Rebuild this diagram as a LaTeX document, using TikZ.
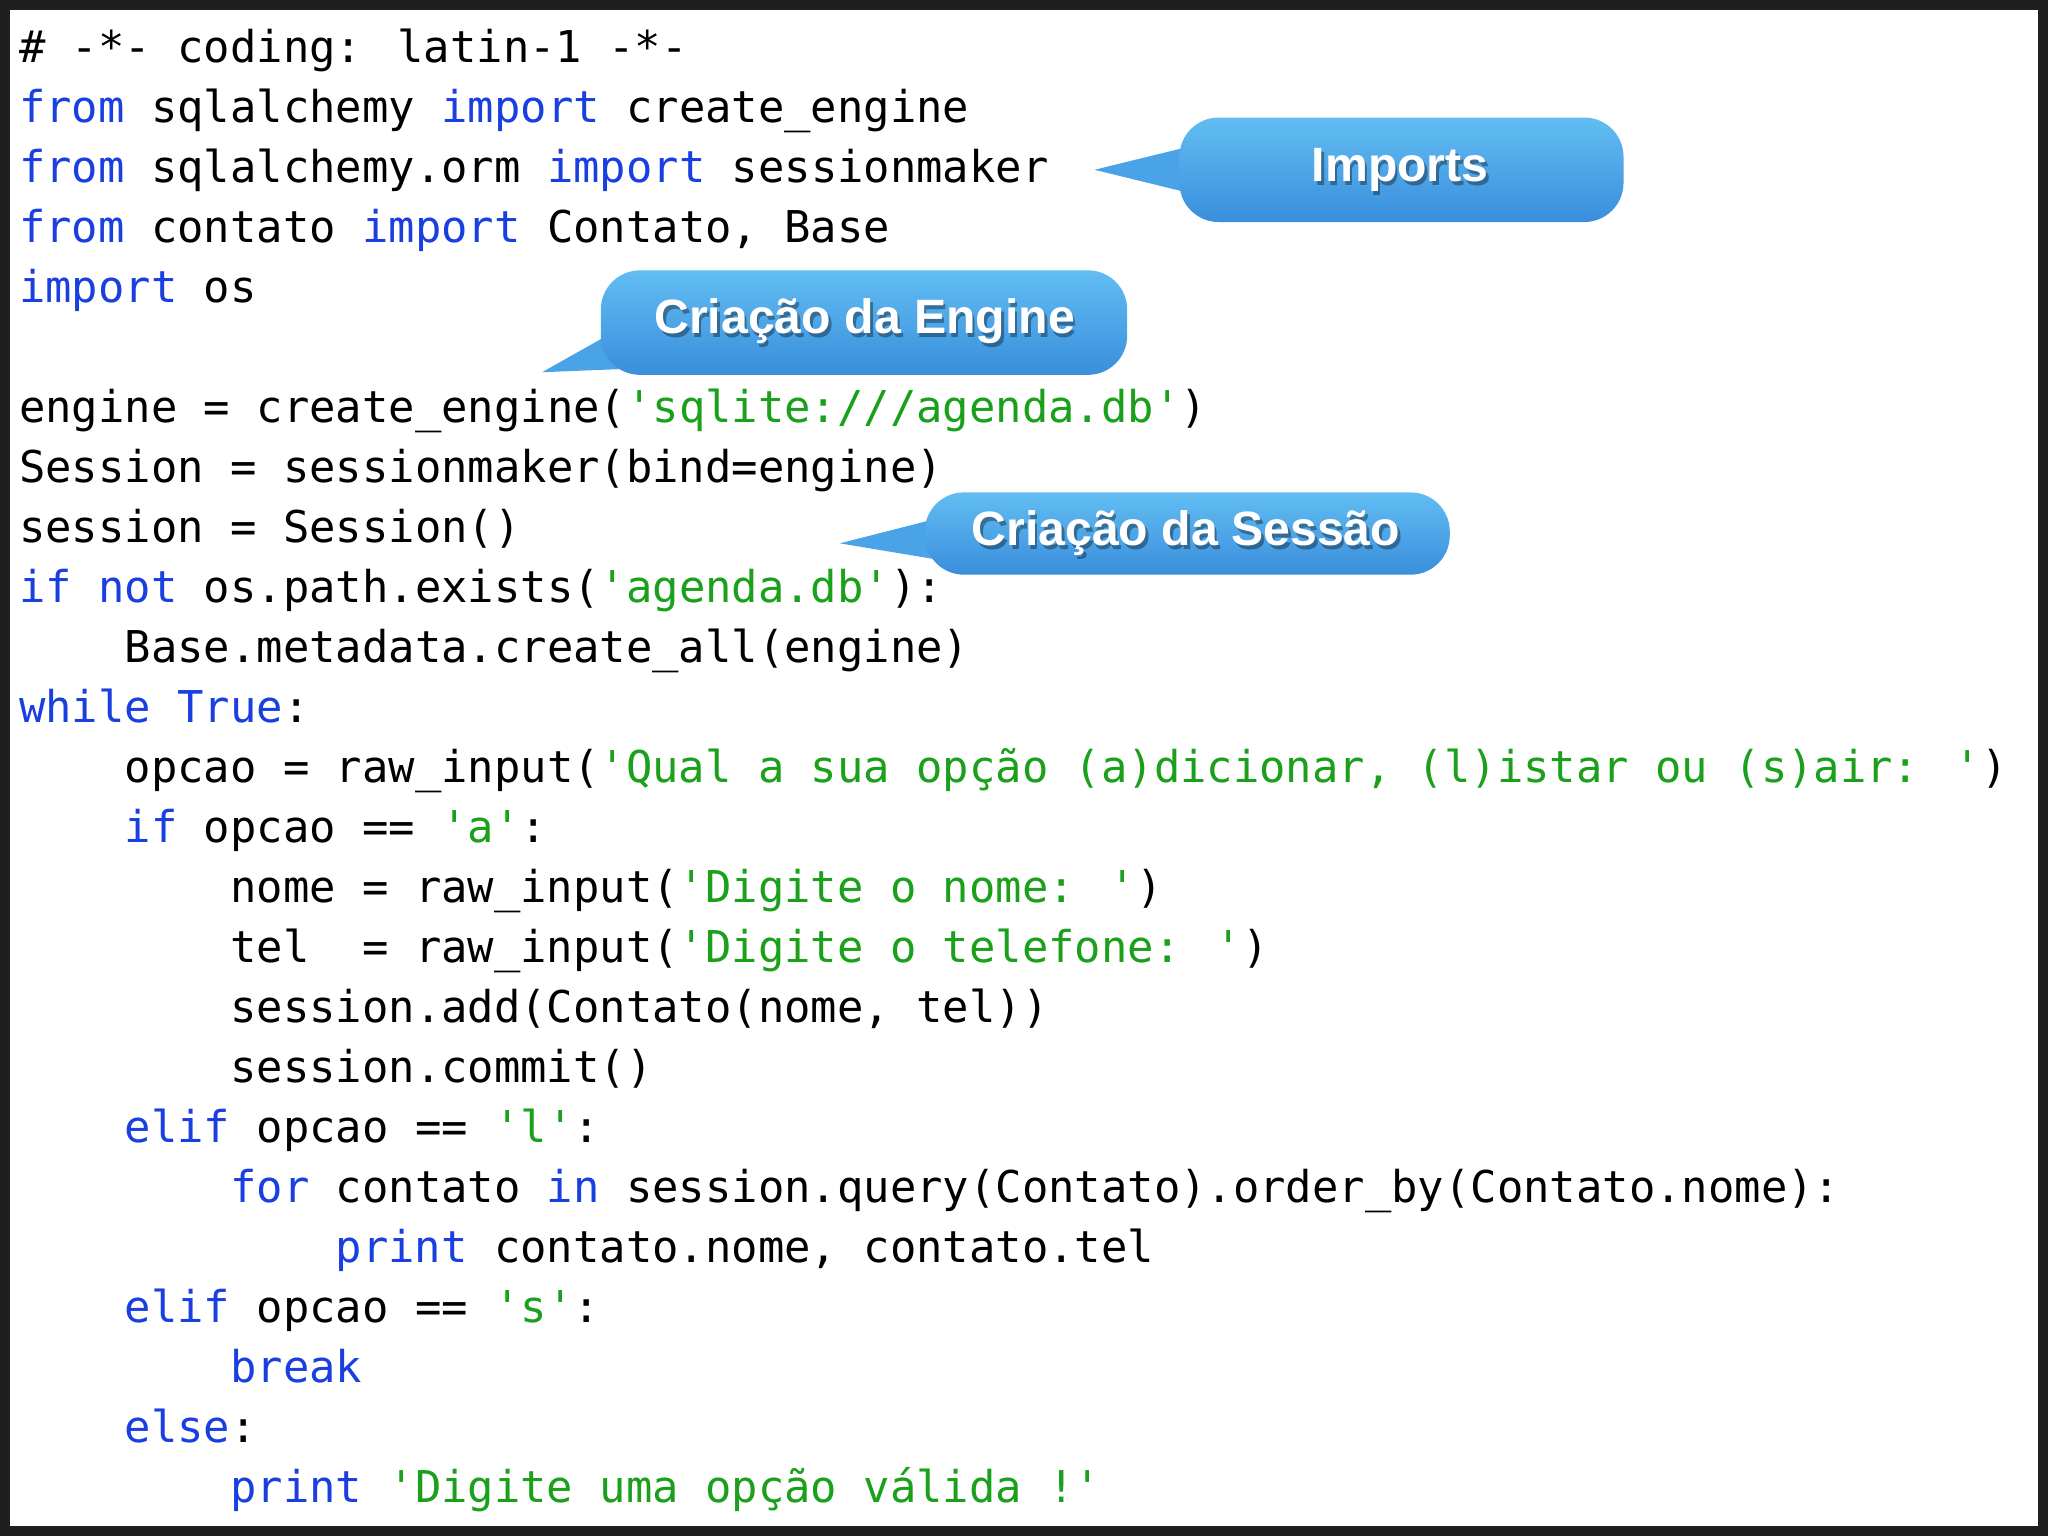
\documentclass[tikz,border=0pt]{standalone}
\usepackage{fontspec}
\newfontfamily\cf{DejaVu Sans Mono}
\newfontfamily\hf{Liberation Sans}
\definecolor{kwc}{HTML}{1A3FE0}
\definecolor{stc}{HTML}{1AA01A}
\definecolor{cbtop}{HTML}{62BDF2}
\definecolor{cbbot}{HTML}{3A8EDC}
\definecolor{cbmid}{HTML}{4AA3E6}
\newcommand\kw[1]{\textcolor{kwc}{#1}}
\newcommand\st[1]{\textcolor{stc}{#1}}
\tikzset{
 code/.style={anchor=base west,inner sep=0pt,font=\cf\fontsize{9.55}{11}\selectfont},
 bubble/.style={shade,top color=cbtop,bottom color=cbbot,draw=none,rounded corners=0.3cm},
 ptr/.style={fill=cbmid,draw=none},
 blab/.style={font=\hf\bfseries\fontsize{10.5}{12}\selectfont,text=white},
 bshadow/.style={font=\hf\bfseries\fontsize{10.5}{12}\selectfont,text=black,opacity=.35}
}
\begin{document}
\begin{tikzpicture}[x=1cm,y=1cm]
\fill[black!88] (0,0) rectangle (15.68,-11.76);
\useasboundingbox (0,0) rectangle (15.68,-11.76);
\fill[white] (0.08,-0.08) rectangle (15.6,-11.68);
\def\L#1{-0.48-0.4592*(#1-1)}
\def\I{0.808}
\node[code] (l1) at (0.14,{\L{1}}) {\# -*- coding: latin-1 -*-};
\node[code] (l2) at (0.14,{\L{2}}) {\kw{from} sqlalchemy \kw{import} create\_engine};
\node[code] (l3) at (0.14,{\L{3}}) {\kw{from} sqlalchemy.orm \kw{import} sessionmaker};
\node[code] (l4) at (0.14,{\L{4}}) {\kw{from} contato \kw{import} Contato, Base};
\node[code] (l5) at (0.14,{\L{5}}) {\kw{import} os};
\node[code] (l7) at (0.14,{\L{7}}) {engine = create\_engine(\st{'sqlite:///agenda.db'})};
\node[code] (l8) at (0.14,{\L{8}}) {Session = sessionmaker(bind=engine)};
\node[code] (l9) at (0.14,{\L{9}}) {session = Session()};
\node[code] (l10) at (0.14,{\L{10}}) {\kw{if} \kw{not} os.path.exists(\st{'agenda.db'}):};
\node[code] (l11) at (0.14+\I,{\L{11}}) {Base.metadata.create\_all(engine)};
\node[code] (l12) at (0.14,{\L{12}}) {\kw{while} \kw{True}:};
\node[code] (l13) at (0.14+\I,{\L{13}}) {opcao = raw\_input(\st{'Qual a sua opção (a)dicionar, (l)istar ou (s)air: '})};
\node[code] (l14) at (0.14+\I,{\L{14}}) {\kw{if} opcao == \st{'a'}:};
\node[code] (l15) at (0.14+2*\I,{\L{15}}) {nome = raw\_input(\st{'Digite o nome: '})};
\node[code] (l16) at (0.14+2*\I,{\L{16}}) {tel\ \ = raw\_input(\st{'Digite o telefone: '})};
\node[code] (l17) at (0.14+2*\I,{\L{17}}) {session.add(Contato(nome, tel))};
\node[code] (l18) at (0.14+2*\I,{\L{18}}) {session.commit()};
\node[code] (l19) at (0.14+\I,{\L{19}}) {\kw{elif} opcao == \st{'l'}:};
\node[code] (l20) at (0.14+2*\I,{\L{20}}) {\kw{for} contato \kw{in} session.query(Contato).order\_by(Contato.nome):};
\node[code] (l21) at (0.14+3*\I,{\L{21}}) {\kw{print} contato.nome, contato.tel};
\node[code] (l22) at (0.14+\I,{\L{22}}) {\kw{elif} opcao == \st{'s'}:};
\node[code] (l23) at (0.14+2*\I,{\L{23}}) {\kw{break}};
\node[code] (l24) at (0.14+\I,{\L{24}}) {\kw{else}:};
\node[code] (l25) at (0.14+2*\I,{\L{25}}) {\kw{print} \st{'Digite uma opção válida !'}};
% callouts
\coordinate (t1) at (8.38,-1.30);
\fill[ptr] (t1) -- (9.40,-1.05) -- (9.40,-1.55) -- cycle;
\path[bubble] (9.03,-0.90) rectangle (12.43,-1.70);
\node[bshadow] at (10.74,-1.33) {Imports};
\node[blab] (b1) at (10.72,-1.30) {Imports};
\coordinate (t2) at (4.15,-2.85);
\fill[ptr] (t2) -- (4.95,-2.40) -- (5.40,-2.80) -- cycle;
\path[bubble] (4.60,-2.07) rectangle (8.63,-2.87);
\node[bshadow] at (6.64,-2.49) {Criação da Engine};
\node[blab] (b2) at (6.62,-2.46) {Criação da Engine};
\coordinate (t3) at (6.43,-4.16);
\fill[ptr] (t3) -- (7.45,-3.90) -- (7.45,-4.33) -- cycle;
\path[bubble] (7.08,-3.77) rectangle (11.10,-4.40);
\node[bshadow] at (9.10,-4.11) {Criação da Sessão};
\node[blab] (b3) at (9.08,-4.08) {Criação da Sessão};
\end{tikzpicture}
\end{document}
